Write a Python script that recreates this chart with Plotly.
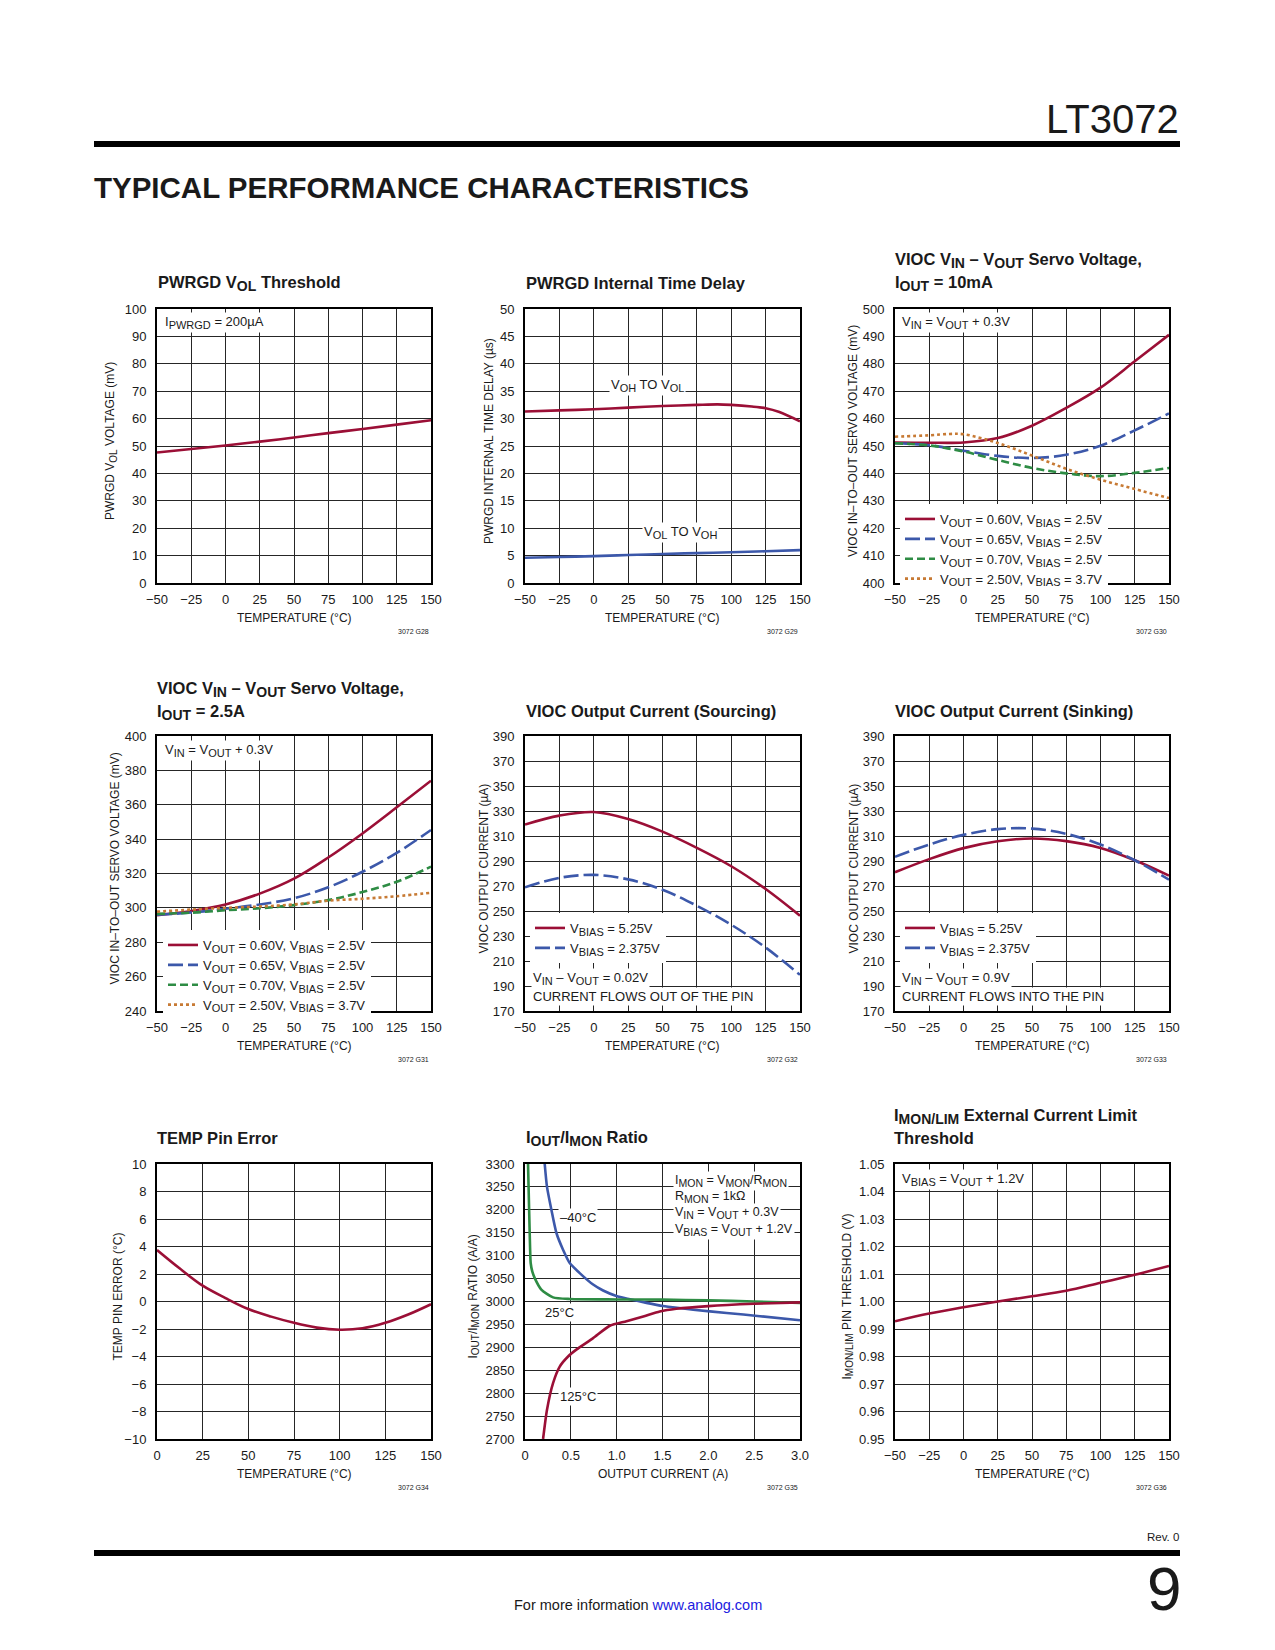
import plotly.graph_objects as go

# ---------------- data ----------------
temp_c = [-50, -25, 0, 25, 50, 75, 100, 125, 150]

# G28 PWRGD VOL threshold
pwrgd_vol_mv = [47.6, 48.9, 50.2, 51.6, 53.1, 54.7, 56.2, 57.8, 59.4]

# G29 PWRGD internal time delay
delay_temp_c = [-50, -25, 0, 25, 50, 75, 90, 100, 115, 125, 135, 150]
delay_voh_to_vol_us = [31.3, 31.5, 31.7, 32.0, 32.3, 32.5, 32.6, 32.5, 32.2, 31.9, 31.2, 29.5]
delay_vol_to_voh_us = [4.6, 4.75, 4.9, 5.1, 5.3, 5.45, 5.6, 5.8, 6.0]

# G30 VIOC servo voltage, IOUT = 10mA
servo10_v060 = [451.3, 451.2, 451.3, 452.9, 457.4, 463.9, 471.3, 480.9, 490.6]
servo10_v065 = [451.0, 450.3, 448.3, 446.4, 445.6, 446.8, 450.1, 455.7, 461.9]
servo10_v070 = [451.0, 450.2, 448.0, 444.9, 442.0, 440.0, 439.0, 440.2, 442.0]
servo10_temp_b = [-50, -25, -10, 0, 25, 50, 75, 100, 125, 150]
servo10_v250 = [453.4, 453.9, 454.4, 454.3, 451.1, 446.5, 441.7, 437.7, 434.3, 431.0]

# G31 VIOC servo voltage, IOUT = 2.5A
servo25_v060 = [295.7, 298.2, 302.0, 308.3, 317.0, 329.3, 343.3, 358.5, 374.0]
servo25_v065 = [296.0, 297.3, 299.5, 302.0, 305.6, 312.0, 321.0, 332.0, 345.3]
servo25_v070 = [296.5, 297.2, 298.6, 299.8, 301.6, 304.5, 309.2, 315.2, 324.0]
servo25_v250 = [297.8, 299.0, 300.0, 300.8, 302.0, 304.2, 305.3, 306.8, 308.8]

# G32 VIOC output current (sourcing)
src_vbias525 = [319.2, 326.3, 329.2, 323.6, 313.5, 300.5, 285.8, 267.6, 246.2]
src_vbias2375 = [268.9, 276.5, 278.9, 275.3, 267.0, 254.2, 239.0, 220.8, 198.9]

# G33 VIOC output current (sinking)
snk_vbias525 = [281.0, 291.5, 300.3, 305.8, 308.0, 305.9, 300.4, 290.6, 278.3]
snk_vbias2375 = [293.3, 303.2, 310.9, 315.5, 315.9, 311.7, 303.2, 290.6, 275.0]

# G34 TEMP pin error
err_temp_c = [0, 12.5, 25, 37.5, 50, 62.5, 75, 87.5, 100, 112.5, 125, 137.5, 150]
err_deg_c = [3.75, 2.4, 1.15, 0.25, -0.55, -1.1, -1.55, -1.9, -2.05, -1.95, -1.55, -0.95, -0.2]

# G35 IOUT/IMON ratio
m40_iout = [0.215, 0.24, 0.288, 0.342, 0.415, 0.488, 0.597, 0.743, 0.852, 0.997, 1.143, 1.325, 1.507, 1.835, 2.199, 2.563, 3.0]
m40_ratio = [3300, 3250, 3200, 3150, 3113, 3084, 3062, 3037, 3024, 3012, 3005, 2997, 2990, 2982, 2975, 2968, 2959]
p25_iout = [0.033, 0.045, 0.055, 0.062, 0.08, 0.106, 0.178, 0.306, 0.49, 1.0, 1.5, 2.0, 2.5, 3.0]
p25_ratio = [3300, 3200, 3120, 3084, 3065, 3051, 3026, 3009, 3005.5, 3004.5, 3004, 3002.5, 3000, 2997]
p125_iout = [0.197, 0.24, 0.306, 0.379, 0.47, 0.56, 0.743, 0.925, 1.107, 1.3, 1.47, 1.65, 2.0, 2.5, 3.0]
p125_ratio = [2700, 2764, 2822, 2858, 2880, 2895, 2920, 2947, 2957, 2968, 2978, 2984, 2990, 2995, 2998]
g35_xtickvals = [0, 0.5, 1.0, 1.5, 2.0, 2.5, 3.0]
g35_xticktext = ["0", "0.5", "1.0", "1.5", "2.0", "2.5", "3.0"]

# G36 IMON/LIM threshold
lim_threshold_v = [0.9928, 0.9956, 0.9979, 1.0000, 1.0019, 1.0039, 1.0068, 1.0097, 1.0129]

# ---------------- styling ----------------
W, H = 1275, 1650
FONT = "Liberation Sans, Arial, sans-serif"
TXT = "#1a1a1a"
RED = "#9b0f36"
BLUE = "#3c58aa"
GREEN = "#2e8c44"
ORANGE = "#c77a34"
LW = 2.6

COLS = [(157, 431), (525, 800), (895, 1169)]
ROWS = [(309, 583), (736, 1011), (1164, 1439)]


def px(x):
    return x / W


def py(y):
    return 1 - y / H


def S(t, size):
    """subscript a little larger than plotly's default 70%"""
    return "<sub><span style='font-size:%gpx'>%s</span></sub>" % (size, t)


fig = go.Figure()
layout = dict(width=W, height=H, margin=dict(l=0, r=0, t=0, b=0), autosize=False,
              paper_bgcolor="white", plot_bgcolor="white", showlegend=True,
              font=dict(family=FONT, color=TXT))
annotations = []
shapes = []

axes_spec = [
    # (col,row, xrange, xdtick, yrange, ydtick)
    (0, 0, [-50, 150], 25, [0, 100], 10),
    (1, 0, [-50, 150], 25, [0, 50], 5),
    (2, 0, [-50, 150], 25, [400, 500], 10),
    (0, 1, [-50, 150], 25, [240, 400], 20),
    (1, 1, [-50, 150], 25, [170, 390], 20),
    (2, 1, [-50, 150], 25, [170, 390], 20),
    (0, 2, [0, 150], 25, [-10, 10], 2),
    (1, 2, [0, 3], 0.5, [2700, 3300], 50),
    (2, 2, [-50, 150], 25, [0.95, 1.05], 0.01),
]

for i, (c, r, xr, xd, yr, yd) in enumerate(axes_spec, start=1):
    sfx = "" if i == 1 else str(i)
    x0, x1 = COLS[c]
    y0, y1 = ROWS[r]
    common = dict(showgrid=True, gridcolor="#262626", gridwidth=1, showline=True,
                  linecolor="black", linewidth=2, mirror=True, zeroline=False,
                  ticks="", fixedrange=True, automargin=False,
                  tickfont=dict(family=FONT, size=13, color=TXT))
    xa = dict(common, domain=[px(x0), px(x1)], range=xr, dtick=xd, tick0=xr[0],
              anchor="y" + sfx, ticklabelstandoff=3)
    ya = dict(common, domain=[py(y1), py(y0)], range=yr, dtick=yd, tick0=yr[0],
              anchor="x" + sfx, ticklabelstandoff=6)
    if i == 8:
        xa.update(tickvals=g35_xtickvals, ticktext=g35_xticktext)
    if i == 9:
        ya.update(tickformat=".2f")
    layout["xaxis" + sfx] = xa
    layout["yaxis" + sfx] = ya


def add_line(i, x, y, color, dash="solid", name=None, legend=None, smooth=1.0):
    sfx = "" if i == 1 else str(i)
    fig.add_trace(go.Scatter(
        x=x, y=y, mode="lines", name=name or "",
        line=dict(color=color, width=LW, dash=dash, shape="spline", smoothing=smooth),
        xaxis="x" + sfx, yaxis="y" + sfx,
        showlegend=legend is not None, legend=legend or "legend",
        hoverinfo="skip"))


DASH_BLUE = "15px,5px"
DASH_GREEN = "8px,4px"
DASH_ORANGE = "3px,3px"

LS = 11  # legend subscript size


def vout_name(v, b):
    return "V%s = %s, V%s = %s" % (S("OUT", LS), v, S("BIAS", LS), b)


# G28
add_line(1, temp_c, pwrgd_vol_mv, RED)
# G29
add_line(2, delay_temp_c, delay_voh_to_vol_us, RED, smooth=0.8)
add_line(2, temp_c, delay_vol_to_voh_us, BLUE)
# G30
L30 = "legend"
add_line(3, temp_c, servo10_v060, RED, name=vout_name("0.60V", "2.5V"), legend=L30)
add_line(3, temp_c, servo10_v065, BLUE, DASH_BLUE, name=vout_name("0.65V", "2.5V"), legend=L30)
add_line(3, temp_c, servo10_v070, GREEN, DASH_GREEN, name=vout_name("0.70V", "2.5V"), legend=L30)
add_line(3, servo10_temp_b, servo10_v250, ORANGE, DASH_ORANGE, name=vout_name("2.50V", "3.7V"), legend=L30)
# G31
L31 = "legend2"
add_line(4, temp_c, servo25_v060, RED, name=vout_name("0.60V", "2.5V"), legend=L31)
add_line(4, temp_c, servo25_v065, BLUE, DASH_BLUE, name=vout_name("0.65V", "2.5V"), legend=L31)
add_line(4, temp_c, servo25_v070, GREEN, DASH_GREEN, name=vout_name("0.70V", "2.5V"), legend=L31)
add_line(4, temp_c, servo25_v250, ORANGE, DASH_ORANGE, name=vout_name("2.50V", "3.7V"), legend=L31)
# G32
add_line(5, temp_c, src_vbias525, RED, name="V%s = 5.25V" % S("BIAS", LS), legend="legend3")
add_line(5, temp_c, src_vbias2375, BLUE, DASH_BLUE, name="V%s = 2.375V" % S("BIAS", LS), legend="legend3")
# G33
add_line(6, temp_c, snk_vbias525, RED, name="V%s = 5.25V" % S("BIAS", LS), legend="legend4")
add_line(6, temp_c, snk_vbias2375, BLUE, DASH_BLUE, name="V%s = 2.375V" % S("BIAS", LS), legend="legend4")
# G34
add_line(7, err_temp_c, err_deg_c, RED)
# G35
add_line(8, m40_iout, m40_ratio, BLUE, smooth=0.6)
add_line(8, p25_iout, p25_ratio, GREEN, smooth=0.6)
add_line(8, p125_iout, p125_ratio, RED, smooth=0.6)
# G36
add_line(9, temp_c, lim_threshold_v, RED)

LEG_FONT = dict(family=FONT, size=13, color=TXT)
for key, (lx, ly) in {"legend": (900, 504), "legend2": (163, 930),
                      "legend3": (530, 913), "legend4": (900, 913)}.items():
    layout[key] = dict(x=px(lx), y=py(ly), xanchor="left", yanchor="top",
                       bgcolor="white", borderwidth=0, font=LEG_FONT,
                       traceorder="normal", itemclick=False, itemdoubleclick=False)


def ann(text, x, y, size=13, xanchor="left", yanchor="middle", bg=None, angle=0,
        color=TXT, bold=False):
    d = dict(text=("<b>%s</b>" % text) if bold else text, x=px(x), y=py(y),
             xref="paper", yref="paper", showarrow=False, xanchor=xanchor,
             yanchor=yanchor, textangle=angle,
             font=dict(family=FONT, size=size, color=color))
    if bg:
        d.update(bgcolor=bg, borderpad=1)
    annotations.append(d)


# chart titles
TS = 16.5
TSS = 14
ann("PWRGD V%s Threshold" % S("OL", TSS), 156, 283, TS, bold=True)
ann("PWRGD Internal Time Delay", 524, 283, TS, bold=True)
ann("VIOC V%s – V%s Servo Voltage," % (S("IN", TSS), S("OUT", TSS)), 893, 260, TS, bold=True)
ann("I%s = 10mA" % S("OUT", TSS), 893, 283, TS, bold=True)
ann("VIOC V%s – V%s Servo Voltage," % (S("IN", TSS), S("OUT", TSS)), 155, 689, TS, bold=True)
ann("I%s = 2.5A" % S("OUT", TSS), 155, 712, TS, bold=True)
ann("VIOC Output Current (Sourcing)", 524, 711, TS, bold=True)
ann("VIOC Output Current (Sinking)", 893, 711, TS, bold=True)
ann("TEMP Pin Error", 155, 1138, TS, bold=True)
ann("I%s/I%s Ratio" % (S("OUT", TSS), S("MON", TSS)), 524, 1138, TS, bold=True)
ann("I%s External Current Limit" % S("MON/LIM", TSS), 892, 1116, TS, bold=True)
ann("Threshold", 892, 1138, TS, bold=True)

# axis titles
AS = 10
ytitles = ["PWRGD V%s VOLTAGE (mV)" % S("OL", AS), "PWRGD INTERNAL TIME DELAY (µs)",
           "VIOC IN–TO–OUT SERVO VOLTAGE (mV)", "VIOC IN–TO–OUT SERVO VOLTAGE (mV)",
           "VIOC OUTPUT CURRENT (µA)", "VIOC OUTPUT CURRENT (µA)",
           "TEMP PIN ERROR (°C)", "I%s/I%s RATIO (A/A)" % (S("OUT", AS), S("MON", AS)),
           "I%s PIN THRESHOLD (V)" % S("MON/LIM", AS)]
ytitle_x = [111, 489, 853, 114, 483, 853, 117, 473, 847]
notes = ["3072 G28", "3072 G29", "3072 G30", "3072 G31", "3072 G32", "3072 G33",
         "3072 G34", "3072 G35", "3072 G36"]
for i, (c, r, *_rest) in enumerate(axes_spec):
    x0, x1 = COLS[c]
    y0, y1 = ROWS[r]
    xt = "OUTPUT CURRENT (A)" if i == 7 else "TEMPERATURE (°C)"
    ann(xt, (x0 + x1) / 2, y1 + 35, 12, xanchor="center")
    ann(ytitles[i], ytitle_x[i], (y0 + y1) / 2 - 5, 12, xanchor="center", angle=-90)
    ann(notes[i], x1, y1 + 48, 7, xanchor="right")

# in-plot labels
NS = 11
ann("I%s = 200µA" % S("PWRGD", NS), 163, 322, 13, bg="white")
ann("V%s TO V%s" % (S("OH", NS), S("OL", NS)), 647, 386, 13, xanchor="center", bg="white")
ann("V%s TO V%s" % (S("OL", NS), S("OH", NS)), 680, 532, 13, xanchor="center", bg="white")
ann("V%s = V%s + 0.3V" % (S("IN", NS), S("OUT", NS)), 900, 322, 13, bg="white")
ann("V%s = V%s + 0.3V" % (S("IN", NS), S("OUT", NS)), 163, 751, 13, bg="white")
ann("V%s – V%s = 0.02V" % (S("IN", NS), S("OUT", NS)), 531, 978, 13, bg="white")
ann("CURRENT FLOWS OUT OF THE PIN", 531, 996, 13, bg="white")
ann("V%s – V%s = 0.9V" % (S("IN", NS), S("OUT", NS)), 900, 978, 13, bg="white")
ann("CURRENT FLOWS INTO THE PIN", 900, 996, 13, bg="white")
BS = 12.5
BSS = 10.5
ann("I%s = V%s/R%s" % (S("MON", BSS), S("MON", BSS), S("MON", BSS)), 673, 1181, BS, bg="white")
ann("R%s = 1kΩ" % S("MON", BSS), 673, 1197, BS, bg="white")
ann("V%s = V%s + 0.3V" % (S("IN", BSS), S("OUT", BSS)), 673, 1213, BS, bg="white")
ann("V%s = V%s + 1.2V" % (S("BIAS", BSS), S("OUT", BSS)), 673, 1230, BS, bg="white")
ann("–40°C", 578, 1217, 13, xanchor="center", bg="white")
ann("25°C", 559, 1312, 13, xanchor="center", bg="white")
ann("125°C", 578, 1396, 13, xanchor="center", bg="white")
ann("V%s = V%s + 1.2V" % (S("BIAS", NS), S("OUT", NS)), 900, 1179, 13, bg="white")

# page header / footer
ann("LT3072", 1181, 119, 40, xanchor="right")
ann("TYPICAL PERFORMANCE CHARACTERISTICS", 92, 188, 29.5, bold=True)
ann("Rev. 0", 1181, 1537, 11.5, xanchor="right")
ann("9", 1183, 1588, 62, xanchor="right")
ann("For more information <span style='color:#2020e0'>www.analog.com</span>", 638, 1605, 14.5,
    xanchor="center")

shapes.append(dict(type="rect", xref="paper", yref="paper", x0=px(94), x1=px(1180),
                   y0=py(147), y1=py(141), fillcolor="black", line=dict(width=0)))
shapes.append(dict(type="rect", xref="paper", yref="paper", x0=px(94), x1=px(1180),
                   y0=py(1556), y1=py(1550), fillcolor="black", line=dict(width=0)))

layout["annotations"] = annotations
layout["shapes"] = shapes
fig.update_layout(**layout)
fig.write_html("out.html", config={"displayModeBar": False, "staticPlot": True},
               post_script="document.body.style.margin='0px';document.body.style.padding='0px';")
